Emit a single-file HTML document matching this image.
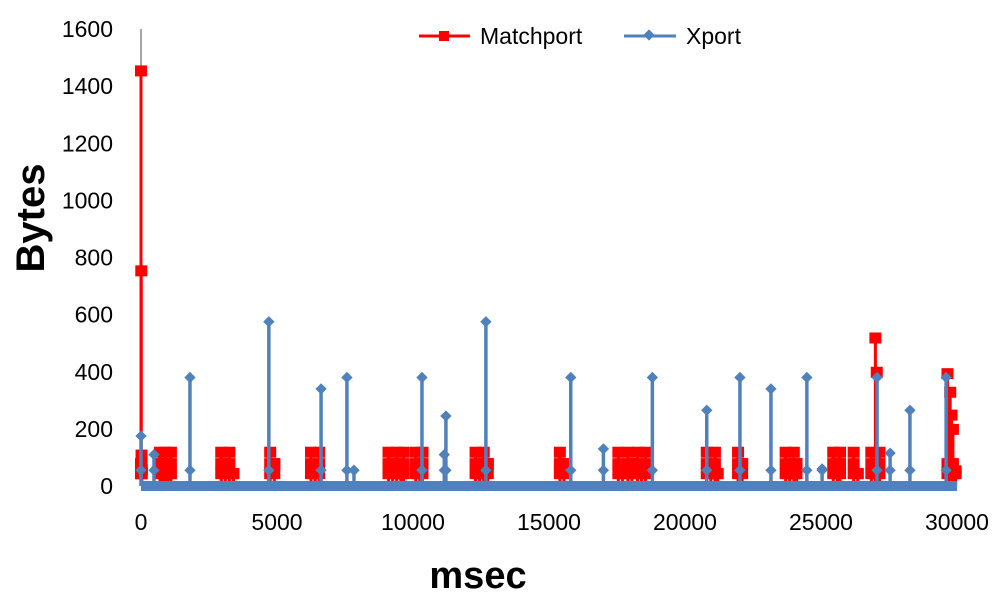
<!DOCTYPE html>
<html><head><meta charset="utf-8"><style>
body{margin:0;background:#fff;font-family:"Liberation Sans",sans-serif}
svg text{font-family:"Liberation Sans",sans-serif}
</style></head><body>
<svg width="1000" height="604" id="c">
<g id="axes"></g><g id="marks"></g>
<text x="44" y="218" font-size="40" font-weight="bold" text-anchor="middle" transform="rotate(-90 44 218)">Bytes</text>
<text x="478" y="588" font-size="38" font-weight="bold" text-anchor="middle">msec</text>
<g>
<line x1="419" y1="36" x2="470" y2="36" stroke="#f00" stroke-width="3"/><rect x="439" y="31" width="10" height="10" fill="#f00"/>
<text x="480" y="44" font-size="23">Matchport</text>
<line x1="624" y1="36" x2="676" y2="36" stroke="#4f81bd" stroke-width="3"/><rect x="645" y="31" width="8" height="8" fill="#4f81bd" transform="rotate(45 649 35)"/>
<text x="686" y="44" font-size="23">Xport</text>
</g>
</svg>
<script>
const yTicks=[0,200,400,600,800,1000,1200,1400,1600];
const xTicks=[0,5000,10000,15000,20000,25000,30000];
const redT=[0,10,20,30,700,800,900,1000,1100,2950,3100,3250,3400,4750,4900,6250,6400,6550,9100,9250,9400,9550,9650,10100,10250,10350,12300,12450,12600,12750,15400,15550,17550,17700,17900,18050,18250,18400,18550,20800,20950,21100,21200,21950,22100,23700,23850,24000,24100,25450,25600,25700,26200,26350,26850,27000,27050,27150,29650,29750,29800,29850,29950];
const redV=[1455,755,110,60,120,80,120,45,120,120,80,120,45,120,80,120,45,120,120,80,120,45,120,120,80,120,120,45,120,80,120,80,120,45,120,80,120,45,120,120,80,120,45,120,80,120,45,120,80,120,80,120,120,45,120,520,400,120,395,330,250,200,55];
const blueT=[0,478,1800,4700,6620,7570,7830,10330,11150,11210,12680,15800,17000,18800,20800,22020,23160,24480,25040,27060,27540,28270,29600];
const blueV=[175,110,380,575,340,380,55,380,110,245,575,380,130,380,265,380,340,380,60,380,115,265,380];
const X=t=>141+t*816/30000, Y=v=>486-v*457/1600;
const NS="http://www.w3.org/2000/svg";
const ax=document.getElementById('axes'), mk=document.getElementById('marks');
function el(tag,a,p){const e=document.createElementNS(NS,tag);for(const k in a)e.setAttribute(k,a[k]);p.appendChild(e);return e;}
const yl=el('line',{x1:141,y1:Y(1600),x2:141,y2:Y(0),stroke:'#888','stroke-width':1.5},ax);


yTicks.forEach(v=>{const t=el('text',{x:113,y:Y(v)+8,'font-size':23,'text-anchor':'end'},ax);t.textContent=v;

});
xTicks.forEach(v=>{const t=el('text',{x:X(v),y:530,'font-size':23,'text-anchor':'middle'},ax);t.textContent=v;

});
redT.forEach((t,i)=>{const g=el('g',{},mk);


el('line',{x1:X(t),y1:Y(0),x2:X(t),y2:Y(redV[i]),stroke:'#f00','stroke-width':3},g);
el('rect',{x:X(t)-6,y:Y(redV[i])-5,width:12,height:11,fill:'#f00'},g);
if(redV[i]>60)el('rect',{x:X(t)-6,y:Y(Math.min(redV[i],80))-5,width:12,height:11,fill:'#f00'},g);
el('rect',{x:X(t)-6,y:Y(45)-5,width:12,height:11,fill:'#f00'},g);});
const base=el('line',{x1:X(0),y1:Y(0),x2:X(30000),y2:Y(0),stroke:'#4f81bd','stroke-width':10},mk);


blueT.forEach((t,i)=>{const g=el('g',{},mk);


const x=X(t);
el('line',{x1:x,y1:Y(0),x2:x,y2:Y(blueV[i]),stroke:'#4f81bd','stroke-width':3.5},g);
[blueV[i],55].forEach(v=>el('rect',{x:x-4,y:Y(v)-4,width:8,height:8,fill:'#4f81bd',transform:`rotate(45 ${x} ${Y(v)})`},g));});
</script>
</body></html>
